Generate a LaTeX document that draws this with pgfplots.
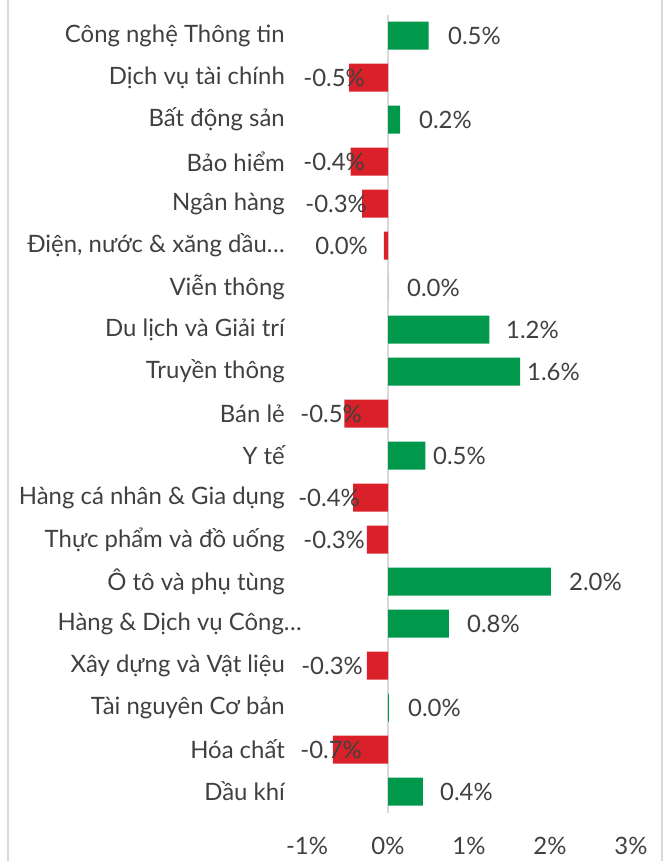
\documentclass[border=0pt]{standalone}
\usepackage{pgfplots}
\usepackage{pgfplotstable}
\pgfplotsset{compat=1.18}
\usepackage{fontspec}
\setmainfont{Lato}
\definecolor{txt}{HTML}{404040}
\definecolor{posg}{HTML}{00984A}
\definecolor{negr}{HTML}{DA2029}
\definecolor{frm}{HTML}{D9D9D9}
\newcommand{\dd}{\mbox{.\kern0.5pt.\kern0.5pt.}}
\newcommand{\fs}{\fontsize{24}{28}\selectfont}
\pgfplotstableread{
idx val
0 0.50
2 0.15
6 0.00
7 1.25
8 1.63
10 0.46
13 2.01
14 0.75
16 0.01
18 0.43
}\posdata
\pgfplotstableread{
idx val
1 -0.48
3 -0.46
4 -0.32
5 -0.05
9 -0.54
11 -0.43
12 -0.26
15 -0.26
17 -0.68
}\negdata
\pgfplotstableread{
idx lx lab
0 0.741 0.5\%
2 0.383 0.2\%
6 0.235 0.0\%
7 1.457 1.2\%
8 1.716 1.6\%
10 0.556 0.5\%
13 2.235 2.0\%
14 0.975 0.8\%
16 0.247 0.0\%
18 0.642 0.4\%
}\poslab
\pgfplotstableread{
idx lx lab
1 -0.284 -0.5\%
3 -0.284 -0.4\%
4 -0.259 -0.3\%
5 -0.247 0.0\%
9 -0.321 -0.5\%
11 -0.346 -0.4\%
12 -0.284 -0.3\%
15 -0.309 -0.3\%
17 -0.321 -0.7\%
}\neglab
\begin{document}
\begin{tikzpicture}
\useasboundingbox (0bp,0bp) rectangle (666bp,861bp);
\draw[frm, line width=1.5bp] (8bp,-10bp) -- (8bp,871bp);
\draw[frm, line width=1.5bp] (662bp,-10bp) -- (662bp,871bp);
\begin{axis}[
  at={(307bp,48.5bp)}, anchor=south west,
  width=324bp, height=798bp, scale only axis,
  xmin=-1, xmax=3, ymin=-0.5, ymax=18.5, y dir=reverse,
  xtick={-1,0,1,2,3}, xticklabels={-1\%,0\%,1\%,2\%,3\%},
  ytick={0,...,18},
  yticklabels={Công nghệ Thông tin, Dịch vụ tài chính, Bất động sản, Bảo hiểm, Ngân hàng,
    {Điện, nước \& xăng dầu\dd}, Viễn thông, Du lịch và Giải trí, Truyền thông, Bán lẻ, Y tế,
    Hàng cá nhân \& Gia dụng, Thực phẩm và đồ uống, Ô tô và phụ tùng,
    {Hàng \& Dịch vụ Công\dd\kern-17bp}, Xây dựng và Vật liệu, Tài nguyên Cơ bản, Hóa chất, Dầu khí},
  axis line style={draw=none}, major tick length=0pt,
  tick label style={font=\fs, text=txt},
  yticklabel style={anchor=east, inner sep=0pt, xshift=-22bp},
  xticklabel style={anchor=north, inner sep=0pt, yshift=-24bp},
  extra x ticks={0}, extra x tick labels={},
  extra x tick style={grid=major, major grid style={draw=frm, line width=2bp}},
  clip=false,
]
\addplot[xbar, bar shift=0pt, bar width=28bp, fill=posg, draw=none] table[x=val, y=idx] {\posdata};
\addplot[xbar, bar shift=0pt, bar width=28bp, fill=negr, draw=none] table[x=val, y=idx] {\negdata};
\addplot[only marks, mark=none, point meta=explicit symbolic, nodes near coords,
  every node near coord/.append style={anchor=west, inner sep=0pt, font=\fs, text=txt}]
  table[x=lx, y=idx, meta=lab] {\poslab};
\addplot[only marks, mark=none, point meta=explicit symbolic, nodes near coords,
  every node near coord/.append style={anchor=east, inner sep=0pt, font=\fs, text=txt}]
  table[x=lx, y=idx, meta=lab] {\neglab};
\end{axis}
\end{tikzpicture}
\end{document}
